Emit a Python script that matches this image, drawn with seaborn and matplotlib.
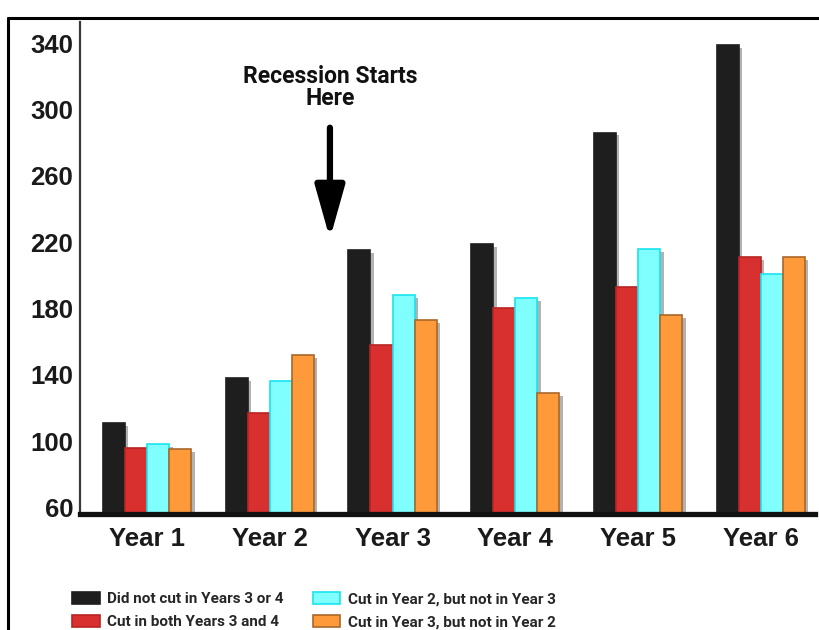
import matplotlib
matplotlib.use("Agg")
import matplotlib.pyplot as plt
import matplotlib.patheffects as pe
import seaborn as sns
import pandas as pd
from matplotlib.lines import Line2D

sns.set_theme(style="white")
plt.rcParams["font.family"] = ["Liberation Sans", "DejaVu Sans"]

years = ["Year 1", "Year 2", "Year 3", "Year 4", "Year 5", "Year 6"]
groups = [
    "Did not cut in Years 3 or 4",
    "Cut in both Years 3 and 4",
    "Cut in Year 2, but not in Year 3",
    "Cut in Year 3, but not in Year 2",
]
no_cut = [111, 138, 215, 219, 286, 339]
cut_both = [96, 117, 158, 180, 193, 211]
cut_y2 = [98, 136, 188, 186, 216, 201]
cut_y3 = [95, 152, 173, 129, 176, 211]

df = pd.DataFrame({
    "year": years * 4,
    "group": [g for g in groups for _ in years],
    "value": no_cut + cut_both + cut_y2 + cut_y3,
})

fills = ["#1e1e1e", "#d8302e", "#80ffff", "#ff9a3a"]
edges = ["#1e1e1e", "#b82424", "#18e4f0", "#a8682a"]
narrow = ["Roboto", "DejaVu Sans"]

fig = plt.figure(figsize=(8.2, 6.3), dpi=100)
ax = fig.add_axes([0.0976, 0.184, 0.896, 0.781])

sns.barplot(data=df, x="year", y="value", hue="group", hue_order=groups,
            order=years, palette=fills, width=0.72, gap=0.0,
            saturation=1, ax=ax, legend=False)

shadow = [pe.SimplePatchShadow(offset=(2.5, -2), shadow_rgbFace="#555555", alpha=0.45),
          pe.Normal()]
for i, cont in enumerate(ax.containers):
    for bar in cont:
        bar.set_edgecolor(edges[i])
        bar.set_linewidth(1.2)
        bar.set_path_effects(shadow)

ax.set_ylim(56, 352.7)
ax.set_xlim(-0.546, 5.44)
ax.set_yticks([60, 100, 140, 180, 220, 260, 300, 340])
ax.set_xlabel("")
ax.set_ylabel("")

for s in ["top", "right"]:
    ax.spines[s].set_visible(False)
ax.spines["left"].set_color("#3a3a3a")
ax.spines["left"].set_linewidth(1.6)
ax.spines["bottom"].set_color("#111111")
ax.spines["bottom"].set_linewidth(3.8)
ax.spines["bottom"].set_zorder(5)

ax.tick_params(axis="y", length=0, pad=5, labelsize=18.5, labelcolor="#1a1a1a")
ax.tick_params(axis="x", length=0, pad=9, labelsize=18.5, labelcolor="#1a1a1a")
for lab in ax.get_xticklabels() + ax.get_yticklabels():
    lab.set_fontweight("bold")

# recession marker
ax.annotate("", xy=(1.49, 222), xytext=(1.49, 289),
            arrowprops=dict(arrowstyle="-|>,head_width=0.45,head_length=1.6",
                            lw=4.5, color="black", mutation_scale=20,
                            shrinkA=0, shrinkB=0))
ax.text(1.49, 313, "Recession Starts\nHere", ha="center", va="center",
        fontsize=16.5, fontweight="bold", linespacing=0.95, family=narrow,
        color="#111111")

handles = [plt.Rectangle((0, 0), 1, 1, facecolor=fills[i], edgecolor=edges[i], lw=1.2)
           for i in range(4)]
fig.legend(handles, groups, loc="upper left", bbox_to_anchor=(72 / 820, 1 - 592 / 630),
           ncol=2, frameon=False, borderpad=0, borderaxespad=0,
           handlelength=1.83, handleheight=0.8, handletextpad=0.46,
           columnspacing=1.9, labelspacing=0.6,
           prop={"family": narrow, "weight": "bold", "size": 11})

# screenshot frame
fig.add_artist(Line2D([8 / 820, 8 / 820], [0, 1 - 18 / 630], color="black", lw=2.2,
                      transform=fig.transFigure))
fig.add_artist(Line2D([8 / 820, 1], [1 - 18 / 630, 1 - 18 / 630], color="black", lw=2.2,
                      transform=fig.transFigure))

fig.savefig("out.png", dpi=100)
